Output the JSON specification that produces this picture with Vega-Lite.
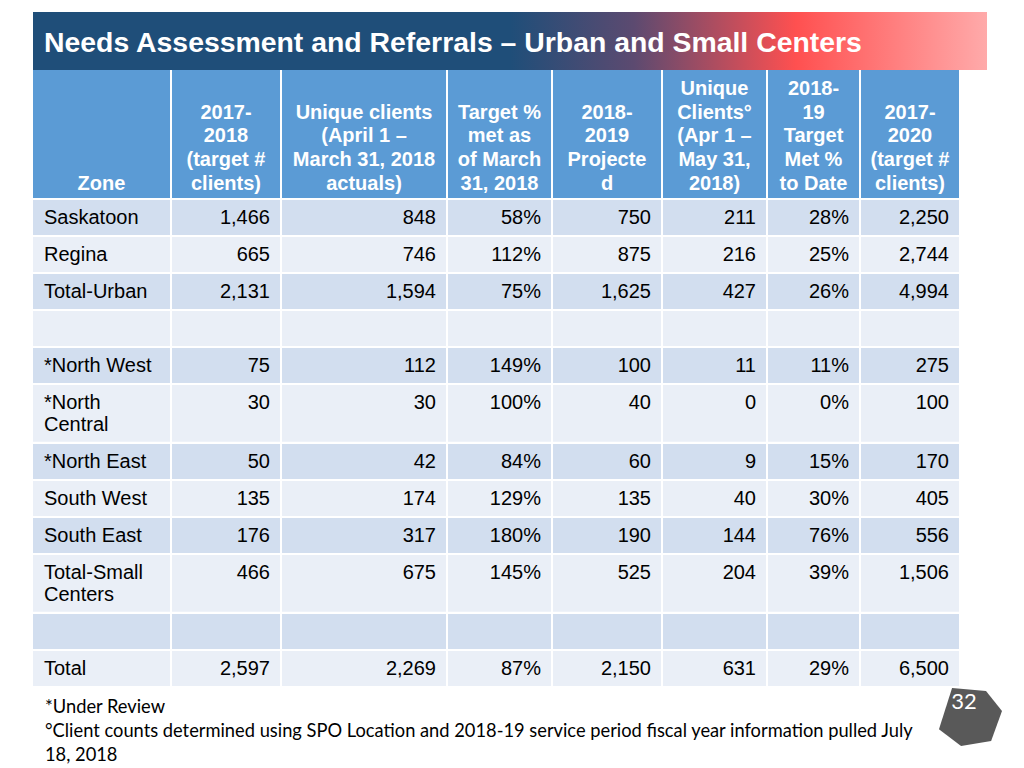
{
  "$schema": "https://vega.github.io/schema/vega-lite/v6.json",
  "background": "white",
  "padding": {"left": 33, "top": 12, "right": 0, "bottom": 0},
  "config": {"view": {"stroke": null}, "font": "Liberation Sans"},
  "datasets": {
    "titlebar": [{"t": "Needs Assessment and Referrals – Urban and Small Centers"}],
    "head": [
      {"col": "zone", "label": ["Zone"]},
      {"col": "t1718", "label": ["2017-", "2018", "(target #", "clients)"]},
      {"col": "act1718", "label": ["Unique clients", "(April 1 –", "March 31, 2018", "actuals)"]},
      {"col": "pct1718", "label": ["Target %", "met as", "of March", "31, 2018"]},
      {"col": "proj1819", "label": ["2018-", "2019", "Projecte", "d"]},
      {"col": "uniq1819", "label": ["Unique", "Clients°", "(Apr 1 –", "May 31,", "2018)"]},
      {"col": "pct1819", "label": ["2018-", "19", "Target", "Met %", "to Date"]},
      {"col": "t1720", "label": ["2017-", "2020", "(target #", "clients)"]}
    ],
    "rows": [
      {"zone": "Saskatoon", "lines": ["Saskatoon"], "t1718": 1466, "act1718": 848, "pct1718": 0.58, "proj1819": 750, "uniq1819": 211, "pct1819": 0.28, "t1720": 2250},
      {"zone": "Regina", "lines": ["Regina"], "t1718": 665, "act1718": 746, "pct1718": 1.12, "proj1819": 875, "uniq1819": 216, "pct1819": 0.25, "t1720": 2744},
      {"zone": "Total-Urban", "lines": ["Total-Urban"], "t1718": 2131, "act1718": 1594, "pct1718": 0.75, "proj1819": 1625, "uniq1819": 427, "pct1819": 0.26, "t1720": 4994},
      {"zone": "", "lines": [""]},
      {"zone": "*North West", "lines": ["*North West"], "t1718": 75, "act1718": 112, "pct1718": 1.49, "proj1819": 100, "uniq1819": 11, "pct1819": 0.11, "t1720": 275},
      {"zone": "*North Central", "lines": ["*North", "Central"], "t1718": 30, "act1718": 30, "pct1718": 1.0, "proj1819": 40, "uniq1819": 0, "pct1819": 0.0, "t1720": 100},
      {"zone": "*North East", "lines": ["*North East"], "t1718": 50, "act1718": 42, "pct1718": 0.84, "proj1819": 60, "uniq1819": 9, "pct1819": 0.15, "t1720": 170},
      {"zone": "South West", "lines": ["South West"], "t1718": 135, "act1718": 174, "pct1718": 1.29, "proj1819": 135, "uniq1819": 40, "pct1819": 0.30, "t1720": 405},
      {"zone": "South East", "lines": ["South East"], "t1718": 176, "act1718": 317, "pct1718": 1.80, "proj1819": 190, "uniq1819": 144, "pct1819": 0.76, "t1720": 556},
      {"zone": "Total-Small Centers", "lines": ["Total-Small", "Centers"], "t1718": 466, "act1718": 675, "pct1718": 1.45, "proj1819": 525, "uniq1819": 204, "pct1819": 0.39, "t1720": 1506},
      {"zone": " ", "lines": [""]},
      {"zone": "Total", "lines": ["Total"], "t1718": 2597, "act1718": 2269, "pct1718": 0.87, "proj1819": 2150, "uniq1819": 631, "pct1819": 0.29, "t1720": 6500}
    ],
    "notes": [{"text": ["*Under Review", "°Client counts determined using SPO Location and 2018-19 service period fiscal year information pulled July", "18, 2018"]}],
    "page": [{"n": "32"}]
  },
  "spacing": 0,
  "vconcat": [
    {
      "data": {"name": "titlebar"},
      "width": 954,
      "height": 58,
      "layer": [
        {"mark": {"type": "rect", "fill": {"gradient": "linear", "x1": 0, "x2": 1, "y1": 0, "y2": 0, "stops": [{"offset": 0, "color": "#1F4E79"}, {"offset": 0.5, "color": "#1F4E79"}, {"offset": 0.63, "color": "#5C4A70"}, {"offset": 0.8, "color": "#FF5050"}, {"offset": 1, "color": "#FFAAAA"}]}}, "encoding": {}},
        {"mark": {"type": "text", "align": "left", "baseline": "middle", "dx": 11, "dy": 2, "fontSize": 28.4, "fontWeight": "bold", "color": "white"}, "encoding": {"x": {"value": 0}, "text": {"field": "t"}}}
      ]
    },
    {
      "spacing": 2,
      "vconcat": [
        {
          "spacing": 2,
          "hconcat": [
            {"data": {"name": "head"}, "transform": [{"filter": "datum.col == 'zone'"}, {"flatten": ["label"], "as": ["line"]}, {"window": [{"op": "row_number", "as": "ln"}]}, {"window": [{"op": "row_number", "as": "rev"}], "sort": [{"field": "ln", "order": "descending"}]}], "width": 137, "height": 128, "layer": [{"mark": {"type": "rect", "fill": "#5B9BD5"}, "encoding": {}}, {"mark": {"type": "text", "baseline": "middle", "fontSize": 20, "fontWeight": "bold", "color": "white"}, "encoding": {"y": {"field": "rev", "type": "ordinal", "axis": null, "scale": {"type": "band", "domain": [5, 4, 3, 2, 1], "paddingInner": 0, "paddingOuter": 0.195, "align": 0.75}}, "text": {"field": "line"}}}]},
            {"data": {"name": "head"}, "transform": [{"filter": "datum.col == 't1718'"}, {"flatten": ["label"], "as": ["line"]}, {"window": [{"op": "row_number", "as": "ln"}]}, {"window": [{"op": "row_number", "as": "rev"}], "sort": [{"field": "ln", "order": "descending"}]}], "width": 108, "height": 128, "layer": [{"mark": {"type": "rect", "fill": "#5B9BD5"}, "encoding": {}}, {"mark": {"type": "text", "baseline": "middle", "fontSize": 20, "fontWeight": "bold", "color": "white"}, "encoding": {"y": {"field": "rev", "type": "ordinal", "axis": null, "scale": {"type": "band", "domain": [5, 4, 3, 2, 1], "paddingInner": 0, "paddingOuter": 0.195, "align": 0.75}}, "text": {"field": "line"}}}]},
            {"data": {"name": "head"}, "transform": [{"filter": "datum.col == 'act1718'"}, {"flatten": ["label"], "as": ["line"]}, {"window": [{"op": "row_number", "as": "ln"}]}, {"window": [{"op": "row_number", "as": "rev"}], "sort": [{"field": "ln", "order": "descending"}]}], "width": 164, "height": 128, "layer": [{"mark": {"type": "rect", "fill": "#5B9BD5"}, "encoding": {}}, {"mark": {"type": "text", "baseline": "middle", "fontSize": 20, "fontWeight": "bold", "color": "white"}, "encoding": {"y": {"field": "rev", "type": "ordinal", "axis": null, "scale": {"type": "band", "domain": [5, 4, 3, 2, 1], "paddingInner": 0, "paddingOuter": 0.195, "align": 0.75}}, "text": {"field": "line"}}}]},
            {"data": {"name": "head"}, "transform": [{"filter": "datum.col == 'pct1718'"}, {"flatten": ["label"], "as": ["line"]}, {"window": [{"op": "row_number", "as": "ln"}]}, {"window": [{"op": "row_number", "as": "rev"}], "sort": [{"field": "ln", "order": "descending"}]}], "width": 103, "height": 128, "layer": [{"mark": {"type": "rect", "fill": "#5B9BD5"}, "encoding": {}}, {"mark": {"type": "text", "baseline": "middle", "fontSize": 20, "fontWeight": "bold", "color": "white"}, "encoding": {"y": {"field": "rev", "type": "ordinal", "axis": null, "scale": {"type": "band", "domain": [5, 4, 3, 2, 1], "paddingInner": 0, "paddingOuter": 0.195, "align": 0.75}}, "text": {"field": "line"}}}]},
            {"data": {"name": "head"}, "transform": [{"filter": "datum.col == 'proj1819'"}, {"flatten": ["label"], "as": ["line"]}, {"window": [{"op": "row_number", "as": "ln"}]}, {"window": [{"op": "row_number", "as": "rev"}], "sort": [{"field": "ln", "order": "descending"}]}], "width": 108, "height": 128, "layer": [{"mark": {"type": "rect", "fill": "#5B9BD5"}, "encoding": {}}, {"mark": {"type": "text", "baseline": "middle", "fontSize": 20, "fontWeight": "bold", "color": "white"}, "encoding": {"y": {"field": "rev", "type": "ordinal", "axis": null, "scale": {"type": "band", "domain": [5, 4, 3, 2, 1], "paddingInner": 0, "paddingOuter": 0.195, "align": 0.75}}, "text": {"field": "line"}}}]},
            {"data": {"name": "head"}, "transform": [{"filter": "datum.col == 'uniq1819'"}, {"flatten": ["label"], "as": ["line"]}, {"window": [{"op": "row_number", "as": "ln"}]}, {"window": [{"op": "row_number", "as": "rev"}], "sort": [{"field": "ln", "order": "descending"}]}], "width": 103, "height": 128, "layer": [{"mark": {"type": "rect", "fill": "#5B9BD5"}, "encoding": {}}, {"mark": {"type": "text", "baseline": "middle", "fontSize": 20, "fontWeight": "bold", "color": "white"}, "encoding": {"y": {"field": "rev", "type": "ordinal", "axis": null, "scale": {"type": "band", "domain": [5, 4, 3, 2, 1], "paddingInner": 0, "paddingOuter": 0.195, "align": 0.75}}, "text": {"field": "line"}}}]},
            {"data": {"name": "head"}, "transform": [{"filter": "datum.col == 'pct1819'"}, {"flatten": ["label"], "as": ["line"]}, {"window": [{"op": "row_number", "as": "ln"}]}, {"window": [{"op": "row_number", "as": "rev"}], "sort": [{"field": "ln", "order": "descending"}]}], "width": 91, "height": 128, "layer": [{"mark": {"type": "rect", "fill": "#5B9BD5"}, "encoding": {}}, {"mark": {"type": "text", "baseline": "middle", "fontSize": 20, "fontWeight": "bold", "color": "white"}, "encoding": {"y": {"field": "rev", "type": "ordinal", "axis": null, "scale": {"type": "band", "domain": [5, 4, 3, 2, 1], "paddingInner": 0, "paddingOuter": 0.195, "align": 0.75}}, "text": {"field": "line"}}}]},
            {"data": {"name": "head"}, "transform": [{"filter": "datum.col == 't1720'"}, {"flatten": ["label"], "as": ["line"]}, {"window": [{"op": "row_number", "as": "ln"}]}, {"window": [{"op": "row_number", "as": "rev"}], "sort": [{"field": "ln", "order": "descending"}]}], "width": 98, "height": 128, "layer": [{"mark": {"type": "rect", "fill": "#5B9BD5"}, "encoding": {}}, {"mark": {"type": "text", "baseline": "middle", "fontSize": 20, "fontWeight": "bold", "color": "white"}, "encoding": {"y": {"field": "rev", "type": "ordinal", "axis": null, "scale": {"type": "band", "domain": [5, 4, 3, 2, 1], "paddingInner": 0, "paddingOuter": 0.195, "align": 0.75}}, "text": {"field": "line"}}}]}
          ]
        },
        {
          "spacing": 2,
          "hconcat": [
            {
              "data": {"name": "rows"},
              "transform": [{"flatten": ["lines"], "as": ["line"]}, {"window": [{"op": "row_number", "as": "ln"}], "groupby": ["zone"]}],
              "facet": {"row": {"field": "zone", "type": "nominal", "sort": ["Saskatoon", "Regina", "Total-Urban", "", "*North West", "*North Central", "*North East", "South West", "South East", "Total-Small Centers", " ", "Total"], "header": null}},
              "spacing": {"row": 2},
              "resolve": {"scale": {"y": "independent"}},
              "spec": {
                "width": 137, "height": {"step": 21.5},
                "layer": [
                  {"mark": "rect", "encoding": {"color": {"field": "zone", "type": "nominal", "legend": null, "scale": {"domain": ["Saskatoon", "Regina", "Total-Urban", "", "*North West", "*North Central", "*North East", "South West", "South East", "Total-Small Centers", " ", "Total"], "range": ["#D2DEEF", "#EAEFF7", "#D2DEEF", "#EAEFF7", "#D2DEEF", "#EAEFF7", "#D2DEEF", "#EAEFF7", "#D2DEEF", "#EAEFF7", "#D2DEEF", "#EAEFF7"]}}}},
                  {"mark": {"type": "text", "align": "left", "baseline": "middle", "fontSize": 20, "dx": 11, "dy": 1, "color": "black"}, "encoding": {"x": {"value": 0}, "y": {"field": "ln", "type": "ordinal", "axis": null, "scale": {"type": "band", "paddingInner": 0, "paddingOuter": 0.312}}, "text": {"field": "line"}}}
                ]
              }
            },
            {
              "data": {"name": "rows"},
              "transform": [{"flatten": ["lines"], "as": ["line"]}, {"window": [{"op": "row_number", "as": "ln"}], "groupby": ["zone"]}],
              "facet": {"row": {"field": "zone", "type": "nominal", "sort": ["Saskatoon", "Regina", "Total-Urban", "", "*North West", "*North Central", "*North East", "South West", "South East", "Total-Small Centers", " ", "Total"], "header": null}},
              "spacing": {"row": 2},
              "resolve": {"scale": {"y": "independent"}},
              "spec": {
                "width": 108, "height": {"step": 21.5},
                "layer": [
                  {"mark": "rect", "encoding": {"color": {"field": "zone", "type": "nominal", "legend": null, "scale": {"domain": ["Saskatoon", "Regina", "Total-Urban", "", "*North West", "*North Central", "*North East", "South West", "South East", "Total-Small Centers", " ", "Total"], "range": ["#D2DEEF", "#EAEFF7", "#D2DEEF", "#EAEFF7", "#D2DEEF", "#EAEFF7", "#D2DEEF", "#EAEFF7", "#D2DEEF", "#EAEFF7", "#D2DEEF", "#EAEFF7"]}}}},
                  {"mark": {"type": "text", "align": "right", "baseline": "middle", "fontSize": 20, "dx": -10, "dy": 1, "color": "black"}, "encoding": {"x": {"value": "width"}, "y": {"field": "ln", "type": "ordinal", "axis": null, "scale": {"type": "band", "paddingInner": 0, "paddingOuter": 0.312}}, "text": {"condition": {"test": "datum.ln == 1 && isValid(datum.t1718)", "field": "t1718", "type": "quantitative", "format": ","}, "value": ""}}}
                ]
              }
            },
            {
              "data": {"name": "rows"},
              "transform": [{"flatten": ["lines"], "as": ["line"]}, {"window": [{"op": "row_number", "as": "ln"}], "groupby": ["zone"]}],
              "facet": {"row": {"field": "zone", "type": "nominal", "sort": ["Saskatoon", "Regina", "Total-Urban", "", "*North West", "*North Central", "*North East", "South West", "South East", "Total-Small Centers", " ", "Total"], "header": null}},
              "spacing": {"row": 2},
              "resolve": {"scale": {"y": "independent"}},
              "spec": {
                "width": 164, "height": {"step": 21.5},
                "layer": [
                  {"mark": "rect", "encoding": {"color": {"field": "zone", "type": "nominal", "legend": null, "scale": {"domain": ["Saskatoon", "Regina", "Total-Urban", "", "*North West", "*North Central", "*North East", "South West", "South East", "Total-Small Centers", " ", "Total"], "range": ["#D2DEEF", "#EAEFF7", "#D2DEEF", "#EAEFF7", "#D2DEEF", "#EAEFF7", "#D2DEEF", "#EAEFF7", "#D2DEEF", "#EAEFF7", "#D2DEEF", "#EAEFF7"]}}}},
                  {"mark": {"type": "text", "align": "right", "baseline": "middle", "fontSize": 20, "dx": -10, "dy": 1, "color": "black"}, "encoding": {"x": {"value": "width"}, "y": {"field": "ln", "type": "ordinal", "axis": null, "scale": {"type": "band", "paddingInner": 0, "paddingOuter": 0.312}}, "text": {"condition": {"test": "datum.ln == 1 && isValid(datum.act1718)", "field": "act1718", "type": "quantitative", "format": ","}, "value": ""}}}
                ]
              }
            },
            {
              "data": {"name": "rows"},
              "transform": [{"flatten": ["lines"], "as": ["line"]}, {"window": [{"op": "row_number", "as": "ln"}], "groupby": ["zone"]}],
              "facet": {"row": {"field": "zone", "type": "nominal", "sort": ["Saskatoon", "Regina", "Total-Urban", "", "*North West", "*North Central", "*North East", "South West", "South East", "Total-Small Centers", " ", "Total"], "header": null}},
              "spacing": {"row": 2},
              "resolve": {"scale": {"y": "independent"}},
              "spec": {
                "width": 103, "height": {"step": 21.5},
                "layer": [
                  {"mark": "rect", "encoding": {"color": {"field": "zone", "type": "nominal", "legend": null, "scale": {"domain": ["Saskatoon", "Regina", "Total-Urban", "", "*North West", "*North Central", "*North East", "South West", "South East", "Total-Small Centers", " ", "Total"], "range": ["#D2DEEF", "#EAEFF7", "#D2DEEF", "#EAEFF7", "#D2DEEF", "#EAEFF7", "#D2DEEF", "#EAEFF7", "#D2DEEF", "#EAEFF7", "#D2DEEF", "#EAEFF7"]}}}},
                  {"mark": {"type": "text", "align": "right", "baseline": "middle", "fontSize": 20, "dx": -10, "dy": 1, "color": "black"}, "encoding": {"x": {"value": "width"}, "y": {"field": "ln", "type": "ordinal", "axis": null, "scale": {"type": "band", "paddingInner": 0, "paddingOuter": 0.312}}, "text": {"condition": {"test": "datum.ln == 1 && isValid(datum.pct1718)", "field": "pct1718", "type": "quantitative", "format": ".0%"}, "value": ""}}}
                ]
              }
            },
            {
              "data": {"name": "rows"},
              "transform": [{"flatten": ["lines"], "as": ["line"]}, {"window": [{"op": "row_number", "as": "ln"}], "groupby": ["zone"]}],
              "facet": {"row": {"field": "zone", "type": "nominal", "sort": ["Saskatoon", "Regina", "Total-Urban", "", "*North West", "*North Central", "*North East", "South West", "South East", "Total-Small Centers", " ", "Total"], "header": null}},
              "spacing": {"row": 2},
              "resolve": {"scale": {"y": "independent"}},
              "spec": {
                "width": 108, "height": {"step": 21.5},
                "layer": [
                  {"mark": "rect", "encoding": {"color": {"field": "zone", "type": "nominal", "legend": null, "scale": {"domain": ["Saskatoon", "Regina", "Total-Urban", "", "*North West", "*North Central", "*North East", "South West", "South East", "Total-Small Centers", " ", "Total"], "range": ["#D2DEEF", "#EAEFF7", "#D2DEEF", "#EAEFF7", "#D2DEEF", "#EAEFF7", "#D2DEEF", "#EAEFF7", "#D2DEEF", "#EAEFF7", "#D2DEEF", "#EAEFF7"]}}}},
                  {"mark": {"type": "text", "align": "right", "baseline": "middle", "fontSize": 20, "dx": -10, "dy": 1, "color": "black"}, "encoding": {"x": {"value": "width"}, "y": {"field": "ln", "type": "ordinal", "axis": null, "scale": {"type": "band", "paddingInner": 0, "paddingOuter": 0.312}}, "text": {"condition": {"test": "datum.ln == 1 && isValid(datum.proj1819)", "field": "proj1819", "type": "quantitative", "format": ","}, "value": ""}}}
                ]
              }
            },
            {
              "data": {"name": "rows"},
              "transform": [{"flatten": ["lines"], "as": ["line"]}, {"window": [{"op": "row_number", "as": "ln"}], "groupby": ["zone"]}],
              "facet": {"row": {"field": "zone", "type": "nominal", "sort": ["Saskatoon", "Regina", "Total-Urban", "", "*North West", "*North Central", "*North East", "South West", "South East", "Total-Small Centers", " ", "Total"], "header": null}},
              "spacing": {"row": 2},
              "resolve": {"scale": {"y": "independent"}},
              "spec": {
                "width": 103, "height": {"step": 21.5},
                "layer": [
                  {"mark": "rect", "encoding": {"color": {"field": "zone", "type": "nominal", "legend": null, "scale": {"domain": ["Saskatoon", "Regina", "Total-Urban", "", "*North West", "*North Central", "*North East", "South West", "South East", "Total-Small Centers", " ", "Total"], "range": ["#D2DEEF", "#EAEFF7", "#D2DEEF", "#EAEFF7", "#D2DEEF", "#EAEFF7", "#D2DEEF", "#EAEFF7", "#D2DEEF", "#EAEFF7", "#D2DEEF", "#EAEFF7"]}}}},
                  {"mark": {"type": "text", "align": "right", "baseline": "middle", "fontSize": 20, "dx": -10, "dy": 1, "color": "black"}, "encoding": {"x": {"value": "width"}, "y": {"field": "ln", "type": "ordinal", "axis": null, "scale": {"type": "band", "paddingInner": 0, "paddingOuter": 0.312}}, "text": {"condition": {"test": "datum.ln == 1 && isValid(datum.uniq1819)", "field": "uniq1819", "type": "quantitative", "format": ","}, "value": ""}}}
                ]
              }
            },
            {
              "data": {"name": "rows"},
              "transform": [{"flatten": ["lines"], "as": ["line"]}, {"window": [{"op": "row_number", "as": "ln"}], "groupby": ["zone"]}],
              "facet": {"row": {"field": "zone", "type": "nominal", "sort": ["Saskatoon", "Regina", "Total-Urban", "", "*North West", "*North Central", "*North East", "South West", "South East", "Total-Small Centers", " ", "Total"], "header": null}},
              "spacing": {"row": 2},
              "resolve": {"scale": {"y": "independent"}},
              "spec": {
                "width": 91, "height": {"step": 21.5},
                "layer": [
                  {"mark": "rect", "encoding": {"color": {"field": "zone", "type": "nominal", "legend": null, "scale": {"domain": ["Saskatoon", "Regina", "Total-Urban", "", "*North West", "*North Central", "*North East", "South West", "South East", "Total-Small Centers", " ", "Total"], "range": ["#D2DEEF", "#EAEFF7", "#D2DEEF", "#EAEFF7", "#D2DEEF", "#EAEFF7", "#D2DEEF", "#EAEFF7", "#D2DEEF", "#EAEFF7", "#D2DEEF", "#EAEFF7"]}}}},
                  {"mark": {"type": "text", "align": "right", "baseline": "middle", "fontSize": 20, "dx": -10, "dy": 1, "color": "black"}, "encoding": {"x": {"value": "width"}, "y": {"field": "ln", "type": "ordinal", "axis": null, "scale": {"type": "band", "paddingInner": 0, "paddingOuter": 0.312}}, "text": {"condition": {"test": "datum.ln == 1 && isValid(datum.pct1819)", "field": "pct1819", "type": "quantitative", "format": ".0%"}, "value": ""}}}
                ]
              }
            },
            {
              "data": {"name": "rows"},
              "transform": [{"flatten": ["lines"], "as": ["line"]}, {"window": [{"op": "row_number", "as": "ln"}], "groupby": ["zone"]}],
              "facet": {"row": {"field": "zone", "type": "nominal", "sort": ["Saskatoon", "Regina", "Total-Urban", "", "*North West", "*North Central", "*North East", "South West", "South East", "Total-Small Centers", " ", "Total"], "header": null}},
              "spacing": {"row": 2},
              "resolve": {"scale": {"y": "independent"}},
              "spec": {
                "width": 98, "height": {"step": 21.5},
                "layer": [
                  {"mark": "rect", "encoding": {"color": {"field": "zone", "type": "nominal", "legend": null, "scale": {"domain": ["Saskatoon", "Regina", "Total-Urban", "", "*North West", "*North Central", "*North East", "South West", "South East", "Total-Small Centers", " ", "Total"], "range": ["#D2DEEF", "#EAEFF7", "#D2DEEF", "#EAEFF7", "#D2DEEF", "#EAEFF7", "#D2DEEF", "#EAEFF7", "#D2DEEF", "#EAEFF7", "#D2DEEF", "#EAEFF7"]}}}},
                  {"mark": {"type": "text", "align": "right", "baseline": "middle", "fontSize": 20, "dx": -10, "dy": 1, "color": "black"}, "encoding": {"x": {"value": "width"}, "y": {"field": "ln", "type": "ordinal", "axis": null, "scale": {"type": "band", "paddingInner": 0, "paddingOuter": 0.312}}, "text": {"condition": {"test": "datum.ln == 1 && isValid(datum.t1720)", "field": "t1720", "type": "quantitative", "format": ","}, "value": ""}}}
                ]
              }
            }
          ]
        }
      ]
    },
    {
      "spacing": 0,
      "hconcat": [
        {
          "data": {"name": "notes"},
          "width": 905,
          "height": 88,
          "mark": {"type": "text", "align": "left", "baseline": "middle", "font": "Lato", "fontSize": 18.3, "lineHeight": 24, "dx": 12, "dy": -22, "color": "black"},
          "encoding": {"x": {"value": 0}, "text": {"field": "text"}}
        },
        {
          "data": {"name": "page"},
          "width": 60,
          "height": 62,
          "layer": [
            {"mark": {"type": "point", "shape": "M-0.56,-0.91L0.5,-0.81L1,-0.19L0.66,0.75L-0.28,0.91L-0.97,0.38Z", "filled": true, "color": "#595959", "opacity": 1, "size": 4096}, "encoding": {}},
            {"mark": {"type": "text", "font": "Lato", "fontSize": 22, "color": "white", "dy": -15, "dx": -6}, "encoding": {"text": {"field": "n"}}}
          ]
        }
      ]
    }
  ]
}
